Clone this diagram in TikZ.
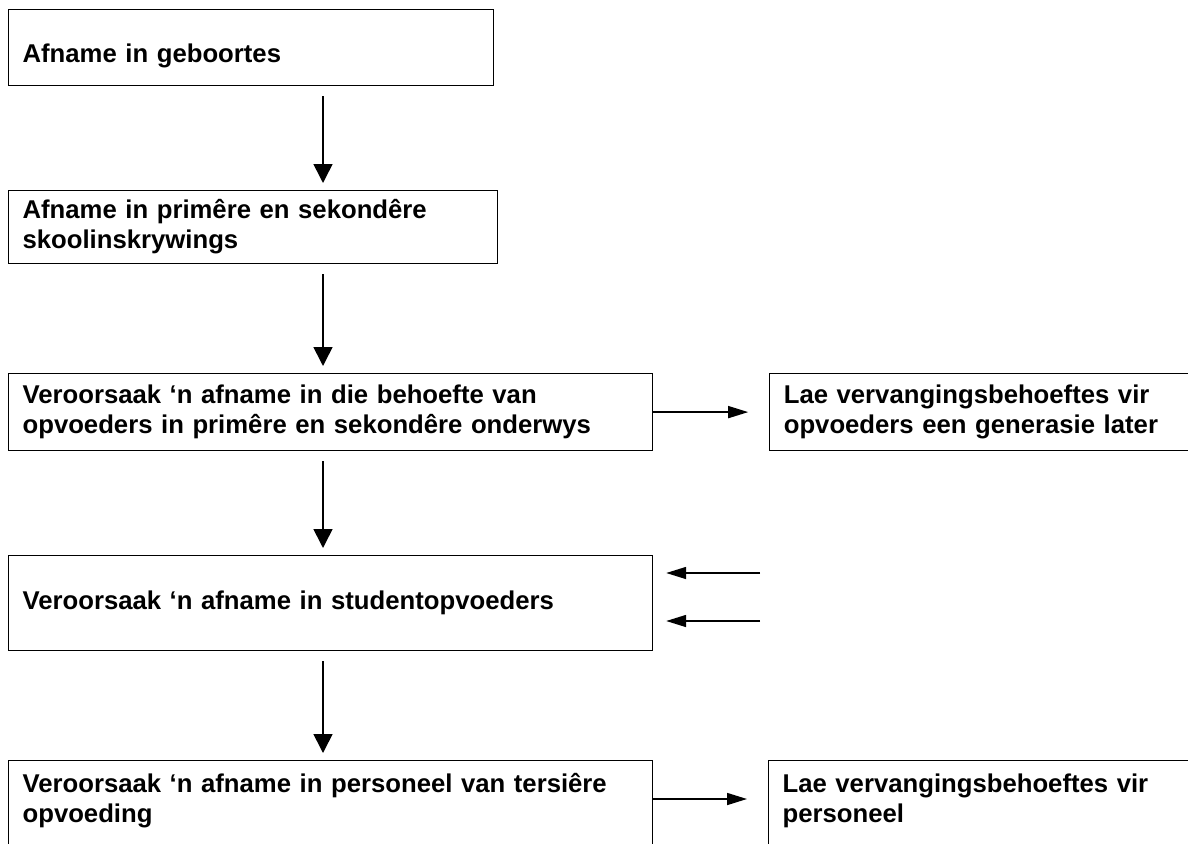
\documentclass[tikz,border=0pt]{standalone}
\usepackage{fontspec}
\setmainfont{Liberation Sans}
\usetikzlibrary{arrows.meta,positioning}

\begin{document}
\begin{tikzpicture}[x=1pt,y=-1pt,
 box/.style={draw,line width=1.2pt,anchor=north west,align=left,text width=#1,inner xsep=14pt,inner ysep=0pt,font=\fontsize{25.7}{30}\selectfont\bfseries},
 down/.style={-{Triangle[length=19pt,width=19pt]},line width=1.6pt,shorten <=10pt,shorten >=7pt},
 side/.style={-{Triangle[length=20pt,width=12pt]},line width=1.6pt}]
 \useasboundingbox(0,0)rectangle(1188,843);
 \clip(0,0)rectangle(1188,843);
 \node[box=457pt,minimum height=76pt,text height=36pt,text depth=6pt](geboortes)at(8,9){Afname in geboortes};
 \node[box=461pt,minimum height=73pt](skool)at(8,190){Afname in primêre en sekondêre\\skoolinskrywings};
 \node[box=616pt,minimum height=77pt](behoefte)at(8,373){Veroorsaak ‘n afname in die behoefte van\\opvoeders in primêre en sekondêre onderwys};
 \node[box=402pt,minimum height=77pt,right=116pt of behoefte](vervang){Lae vervangingsbehoeftes vir\\opvoeders een generasie later};
 \node[box=616pt,minimum height=95pt](studente)at(8,555){Veroorsaak ‘n afname in studentopvoeders};
 \node[box=616pt,inner ysep=13pt,text depth=70pt](tersier)at(8,760){Veroorsaak ‘n afname in personeel van tersiêre\\opvoeding};
 \node[box=402pt,inner ysep=13pt,text depth=70pt](personeel)at(768,760){Lae vervangingsbehoeftes vir\\personeel};
 \coordinate(spine)at(323,0);
 \draw[down](geboortes.south-|spine)--(skool.north-|spine);
 \draw[down](skool.south-|spine)--(behoefte.north-|spine);
 \draw[down](behoefte.south-|spine)--(studente.north-|spine);
 \draw[down](studente.south-|spine)--(tersier.north-|spine);
 \draw[side,shorten >=21pt](behoefte)--(vervang);
 \coordinate(pijl)at(0,799);
 \draw[side,shorten >=21pt](tersier.east|-pijl)--(personeel.west|-pijl);
 \coordinate(in1)at(760,573);\coordinate(in2)at(760,621);
 \draw[side,shorten >=13pt](in1)--(in1-|studente.east);
 \draw[side,shorten >=13pt](in2)--(in2-|studente.east);
\end{tikzpicture}
\end{document}
